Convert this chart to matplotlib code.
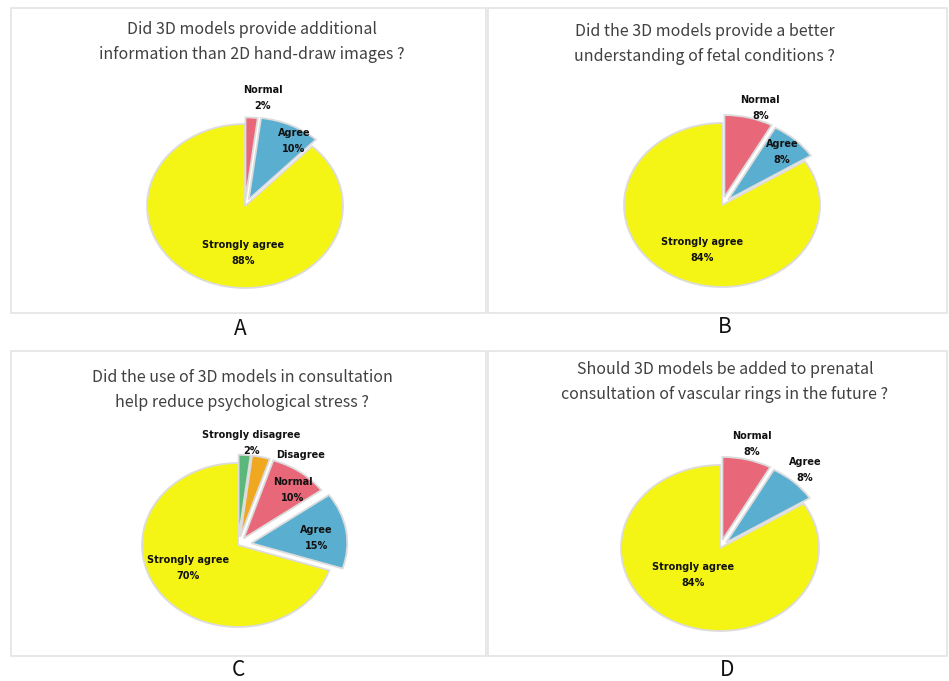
import numpy as np
import matplotlib
matplotlib.use('Agg')
import matplotlib.pyplot as plt
from matplotlib.patches import Rectangle

plt.rcParams['font.family'] = ['Noto Sans CJK SC', 'DejaVu Sans']

# data
titles = [
    "Did 3D models provide additional\ninformation than 2D hand-draw images ?",
    "Did the 3D models provide a better\nunderstanding of fetal conditions ?",
    "Did the use of 3D models in consultation\nhelp reduce psychological stress ?",
    "Should 3D models be added to prenatal\nconsultation of vascular rings in the future ?",
]
panel_letters = ["A", "B", "C", "D"]

labels_a = ["Normal", "Agree", "Strongly agree"]
values_a = [2, 10, 88]
labels_b = ["Normal", "Agree", "Strongly agree"]
values_b = [8, 8, 84]
labels_c = ["Strongly disagree", "Disagree", "Normal", "Agree", "Strongly agree"]
values_c = [2, 3, 10, 15, 70]
show_pct_c = [True, False, True, True, True]
labels_d = ["Normal", "Agree", "Strongly agree"]
values_d = [8, 8, 84]

col = {"Strongly disagree": "#5cb87a", "Disagree": "#f0a820", "Normal": "#e8687a",
       "Agree": "#5aafd0", "Strongly agree": "#f5f515"}

W, H = 949, 681
fig = plt.figure(figsize=(W / 100, H / 100), dpi=100)

# panel frames (pixel coords, y from top)
frames = [(11, 8, 486, 313), (488, 8, 947, 313), (11, 351, 486, 656), (488, 351, 947, 656)]
for x0, y0, x1, y1 in frames:
    fig.patches.append(Rectangle((x0 / W, 1 - y1 / H), (x1 - x0) / W, (y1 - y0) / H,
                                 transform=fig.transFigure, fill=False,
                                 edgecolor='#e4e4e4', linewidth=1.2))

title_pos = [(252, 42), (705, 44), (242, 390), (725, 382)]
for t, (x, y) in zip(titles, title_pos):
    fig.text(x / W, 1 - y / H, t, ha='center', va='center', fontsize=11.5,
             color='#404040', linespacing=1.6)

letter_pos = [(240, 329), (725, 327), (238, 670), (727, 670)]
for t, (x, y) in zip(panel_letters, letter_pos):
    fig.text(x / W, 1 - y / H, t, ha='center', va='center', fontsize=15,
             color='#111111', fontweight='light')


def draw_pie(cx, cy, rx, ry, labels, values, explode, text_pos, show_pct=None):
    lim = 1.35
    ax = fig.add_axes([(cx - lim * rx) / W, 1 - (cy + lim * ry) / H,
                       2 * lim * rx / W, 2 * lim * ry / H])
    ax.pie(values, explode=explode, startangle=90, counterclock=False,
           colors=[col[l] for l in labels],
           wedgeprops=dict(edgecolor='#dcdcdc', linewidth=1.3))
    ax.set_aspect('auto')
    ax.set_xlim(-lim, lim)
    ax.set_ylim(-lim, lim)
    ax.axis('off')
    if show_pct is None:
        show_pct = [True] * len(labels)
    kw = dict(ha='center', va='center', fontsize=7, fontweight='bold',
              family='DejaVu Sans', color='#111111', textcoords='offset points')
    for lab, v, (tx, ty), sp in zip(labels, values, text_pos, show_pct):
        if sp:
            ax.annotate(lab, (tx, ty), xytext=(0, 5.8), **kw)
            ax.annotate("%d%%" % v, (tx, ty), xytext=(0, -5.8), **kw)
        else:
            ax.annotate(lab, (tx, ty), xytext=(0, 0), **kw)
    return ax


draw_pie(245, 206, 98, 82, labels_a, values_a, [0.08, 0.09, 0],
         [(0.18, 1.32), (0.5, 0.79), (-0.02, -0.57)])
draw_pie(722, 205, 98, 82, labels_b, values_b, [0.1, 0.09, 0],
         [(0.39, 1.18), (0.61, 0.65), (-0.2, -0.55)])
draw_pie(238, 545, 96, 82, labels_c, values_c, [0.1, 0.1, 0.1, 0.14, 0],
         [(0.14, 1.24), (0.65, 1.1), (0.57, 0.67), (0.82, 0.09), (-0.52, -0.28)],
         show_pct_c)
draw_pie(720, 548, 99, 83, labels_d, values_d, [0.1, 0.09, 0],
         [(0.32, 1.25), (0.86, 0.94), (-0.27, -0.33)])

fig.savefig('out.png', dpi=100, facecolor='white')
